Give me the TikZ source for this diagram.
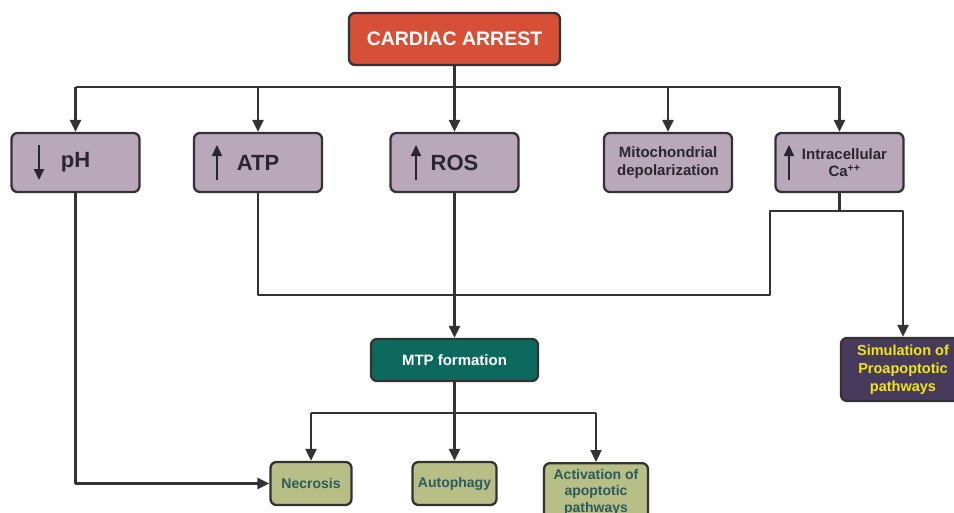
\documentclass[tikz,border=0pt]{standalone}
\usepackage{fontspec}
\setmainfont{Liberation Sans}
\usetikzlibrary{arrows.meta}
\definecolor{arrestred}{HTML}{D65037}
\definecolor{mauve}{HTML}{B8A8BA}
\definecolor{mauvetext}{HTML}{2A2530}
\definecolor{mtpteal}{HTML}{0D695D}
\definecolor{simpurple}{HTML}{483A5C}
\definecolor{simyellow}{HTML}{F0E61E}
\definecolor{olive}{HTML}{B7BF86}
\definecolor{olivetext}{HTML}{2D5A5A}
\definecolor{wire}{HTML}{333333}
\tikzset{bx/.style={draw=wire, line width=2.3pt, rounded corners=6pt, inner sep=0pt, align=center, font=\bfseries\fontsize{15}{17.5}\selectfont}}
\tikzset{sbox/.style={bx, fill=mauve, text=mauvetext, minimum width=128pt, minimum height=59pt}}
\tikzset{gbox/.style={bx, fill=olive, text=olivetext, minimum height=43pt, font=\bfseries\fontsize{14}{16.5}\selectfont}}
\tikzset{big/.style={font=\bfseries\fontsize{22}{22}\selectfont}}
\tikzset{ln/.style={line width=2.3pt, draw=wire}}
\tikzset{ar/.style={ln, -{Triangle[length=12pt,width=11pt]}}}
\tikzset{sym/.style={line width=2pt, draw=mauvetext, -{Triangle[length=11pt,width=10pt]}}}

\begin{document}
\begin{tikzpicture}[x=1pt, y=-1pt, line join=round]
  \useasboundingbox (0,0) rectangle (954,512);

  \node[bx, fill=arrestred, text=white, minimum width=211pt, minimum height=52pt, font=\bfseries\fontsize{19.5}{20}\selectfont] (arrest) at (454.5,39) {CARDIAC ARREST};

  \node[sbox, big] (ph) at (75.5,162.5) {pH};
  \node[sbox, big] (atp) at (258,162.5) {ATP};
  \node[sbox, big] (ros) at (454.5,162.5) {ROS};
  \node[sbox] (mito) at (668,162.5) {Mitochondrial\\depolarization};
  \node[sbox] (calcium) at (839.5,162.5) {\hspace*{10pt}Intracellular\\\hspace*{10pt}Ca\textsuperscript{++}};

  \draw[sym] ([xshift=-36.5pt,yshift=17.5pt]ph.center) -- ++(0,35);
  \draw[sym] ([xshift=-41pt,yshift=-17.5pt]atp.center) -- ++(0,-35);
  \draw[sym] ([xshift=-38.5pt,yshift=-17.5pt]ros.center) -- ++(0,-35);
  \draw[sym] ([xshift=-50.5pt,yshift=-17.5pt]calcium.center) -- ++(0,-35);

  \node[bx, fill=mtpteal, text=white, minimum width=167pt, minimum height=42pt] (mtp) at (454.5,360) {MTP formation};
  \node[bx, fill=simpurple, text=simyellow, minimum width=124pt, minimum height=63pt, font=\bfseries\fontsize{14.5}{18}\selectfont] (sim) at (903,369.5) {Simulation of\\Proapoptotic\\pathways};

  \node[gbox, minimum width=81pt] (necrosis) at (311,483.5) {Necrosis};
  \node[gbox, minimum width=84pt] (autophagy) at (454.5,483.5) {Autophagy};
  \node[gbox, minimum width=104pt, anchor=north, inner ysep=6pt] (apopt) at (596,462) {Activation of\\apoptotic\\pathways};

  \coordinate (bus) at (454.5,87);
  \draw[ln] (arrest.south) -- (bus);
  \draw[ln] (ph.north |- bus) -- (calcium.north |- bus);
  \foreach \n in {ph,atp,ros,mito,calcium}
    \draw[ar] (\n.north |- bus) -- (\n.north);

  \draw[ar] (ph.south) |- (necrosis.west);

  \coordinate (cajoin) at (839.5,211);
  \coordinate (atpturn) at (770,295);
  \draw[ln] (calcium.south) -- (cajoin);
  \draw[ar] (atp.south) |- (atpturn) |- (cajoin) -| (sim.north);

  \draw[ar] (ros.south) -- (mtp.north);

  \coordinate (mbus) at (454.5,413);
  \draw[ln] (mtp.south) -- (mbus);
  \draw[ln] (necrosis.north |- mbus) -- (apopt.north |- mbus);
  \foreach \n in {necrosis,autophagy,apopt}
    \draw[ar] (\n.north |- mbus) -- (\n.north);
\end{tikzpicture}
\end{document}
